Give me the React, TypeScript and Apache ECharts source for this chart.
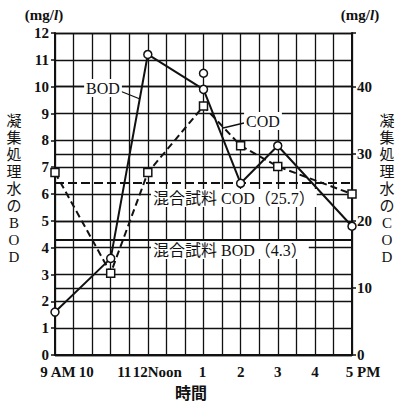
import React, { useEffect, useRef } from 'react';
import * as echarts from 'echarts';

// Sampling times (hours of the day) and measured values
const sampleHours = [9, 10.5, 11.5, 13, 14, 15, 17];
const bodValues = [1.6, 3.6, 11.2, 9.9, 6.4, 7.8, 4.8]; // mg/l, left axis
const codValues = [27.2, 12.2, 27.2, 37.1, 31.2, 28.1, 24.0]; // mg/l, right axis
const bodExtraHours = [13];
const bodExtraValues = [10.5];

// Mixed-sample reference levels
const mixedBod = 4.3;
const mixedCod = 25.7;

// Time axis labels
const hourTicks = [9, 10, 11, 12, 13, 14, 15, 16, 17];
const hourLabels = ['9 AM', '10', '11', '12Noon', '1', '2', '3', '4', '5 PM'];
const hourLabelShift = [3, -6, -5, -9, -1, 0, 0, 0, 11];

const FONT = '"Liberation Serif", "Noto Sans CJK JP", serif';
const INK = '#111';

export default function App() {
  const ref = useRef<HTMLDivElement>(null);

  useEffect(() => {
    if (!ref.current) return;
    const chart = echarts.init(ref.current, undefined, { renderer: 'svg' });

    const rich: Record<string, any> = {};
    hourLabels.forEach((_, i) => {
      const s = hourLabelShift[i];
      rich['t' + i] = {
        fontFamily: FONT,
        fontSize: 15,
        fontWeight: 'bold',
        color: INK,
        padding: s < 0 ? [0, -2 * s, 0, 0] : [0, 0, 0, 2 * s],
      };
    });

    const bodData = sampleHours.map((h, i) => [h, bodValues[i]]);
    const codData = sampleHours.map((h, i) => [h, codValues[i]]);
    const extraData = bodExtraHours.map((h, i) => [h, bodExtraValues[i]]);

    const vertical = (s: string) => s.split('').join('\n');
    const txt = (
      text: string,
      x: number,
      y: number,
      opts: Record<string, any> = {}
    ) => ({
      type: 'text',
      x,
      y,
      z: 20,
      style: {
        text,
        fill: INK,
        font: `15px ${FONT}`,
        textAlign: 'center',
        textVerticalAlign: 'middle',
        ...opts,
      },
    });

    const markerStyle = { color: '#fff', borderColor: INK, borderWidth: 1.5, opacity: 1 };

    chart.setOption({
      animation: false,
      backgroundColor: '#fff',
      grid: { left: 55, top: 33, right: 44, bottom: 49 },
      xAxis: {
        type: 'value',
        min: 9,
        max: 17,
        interval: 0.5,
        axisLine: { show: true, lineStyle: { color: INK, width: 2 } },
        axisTick: { show: false },
        splitLine: { show: true, lineStyle: { color: INK, width: 1.3 } },
        axisLabel: {
          margin: 9,
          formatter: (v: number) => {
            const i = hourTicks.indexOf(v);
            return i < 0 ? '' : `{t${i}|${hourLabels[i]}}`;
          },
          rich,
        },
      },
      yAxis: [
        {
          type: 'value',
          min: 0,
          max: 12,
          interval: 1,
          axisLine: { show: true, lineStyle: { color: INK, width: 2 } },
          axisTick: { show: true, length: 4, lineStyle: { color: INK, width: 1.5 } },
          splitLine: { show: true, lineStyle: { color: INK, width: 1.3 } },
          axisLabel: {
            margin: 6,
            color: INK,
            fontFamily: FONT,
            fontSize: 15,
            fontWeight: 'bold',
          },
        },
        {
          type: 'value',
          min: 0,
          max: 48,
          interval: 10,
          position: 'right',
          axisLine: { show: true, lineStyle: { color: INK, width: 2 } },
          axisTick: { show: true, length: 4, lineStyle: { color: INK, width: 1.5 } },
          splitLine: { show: true, lineStyle: { color: INK, width: 1.3 } },
          axisLabel: {
            margin: 5,
            color: INK,
            fontFamily: FONT,
            fontSize: 15,
            fontWeight: 'bold',
            formatter: (v: number) => (v % 10 === 0 ? String(v) : ''),
          },
        },
      ],
      series: [
        {
          name: 'BOD',
          type: 'line',
          yAxisIndex: 0,
          data: bodData,
          symbol: 'circle',
          symbolSize: 8,
          itemStyle: markerStyle,
          lineStyle: { color: INK, width: 2 },
          z: 5,
          markLine: {
            silent: true,
            symbol: 'none',
            label: { show: false },
            lineStyle: { color: INK, width: 2, type: 'solid' },
            data: [{ yAxis: mixedBod }],
          },
        },
        {
          name: 'BOD extra',
          type: 'scatter',
          yAxisIndex: 0,
          data: extraData,
          symbol: 'circle',
          symbolSize: 8,
          itemStyle: markerStyle,
          z: 5,
        },
        {
          name: 'COD',
          type: 'line',
          yAxisIndex: 1,
          data: codData,
          symbol: 'rect',
          symbolSize: 8,
          itemStyle: markerStyle,
          lineStyle: { color: INK, width: 2, type: [7, 4] },
          z: 5,
          markLine: {
            silent: true,
            symbol: 'none',
            label: { show: false },
            lineStyle: { color: INK, width: 2, type: [9, 4] },
            data: [{ yAxis: mixedCod }],
          },
        },
      ],
      graphic: [
        // units
        txt('(mg/{i|l})', 44, 15, {
          font: `bold 15px ${FONT}`,
          rich: { i: { fontStyle: 'italic', fontWeight: 'bold', fontSize: 15, fontFamily: FONT } },
        }),
        txt('(mg/{i|l})', 360, 15, {
          font: `bold 15px ${FONT}`,
          rich: { i: { fontStyle: 'italic', fontWeight: 'bold', fontSize: 15, fontFamily: FONT } },
        }),
        // axis titles
        txt(vertical('凝集処理水のBOD'), 14, 112, {
          textVerticalAlign: 'top',
          lineHeight: 17,
        }),
        txt(vertical('凝集処理水のCOD'), 387, 112, {
          textVerticalAlign: 'top',
          lineHeight: 17,
        }),
        txt('時間', 191, 393, { font: `bold 16px ${FONT}` }),
        // series annotations
        { type: 'line', z: 19, shape: { x1: 120, y1: 91, x2: 140, y2: 99 }, style: { stroke: INK, lineWidth: 1.3 } },
        txt('BOD', 103, 88, { font: `16px ${FONT}`, backgroundColor: '#fff', padding: [1, 2, 1, 2] }),
        { type: 'line', z: 19, shape: { x1: 244, y1: 123, x2: 223, y2: 128 }, style: { stroke: INK, lineWidth: 1.3 } },
        txt('COD', 263, 121, { font: `16px ${FONT}`, backgroundColor: '#fff', padding: [1, 2, 1, 2] }),
        txt('混合試料 COD（25.7）', 151, 198, {
          textAlign: 'left',
          font: `16px ${FONT}`,
          backgroundColor: '#fff',
          padding: [1, 2, 1, 2],
        }),
        txt('混合試料 BOD（4.3）', 151, 250, {
          textAlign: 'left',
          font: `16px ${FONT}`,
          backgroundColor: '#fff',
          padding: [1, 2, 1, 2],
        }),
      ],
    });

    return () => chart.dispose();
  }, []);

  return (
    <div
      ref={ref}
      style={{ position: 'fixed', left: 0, top: 0, width: 396, height: 404 }}
    />
  );
}
